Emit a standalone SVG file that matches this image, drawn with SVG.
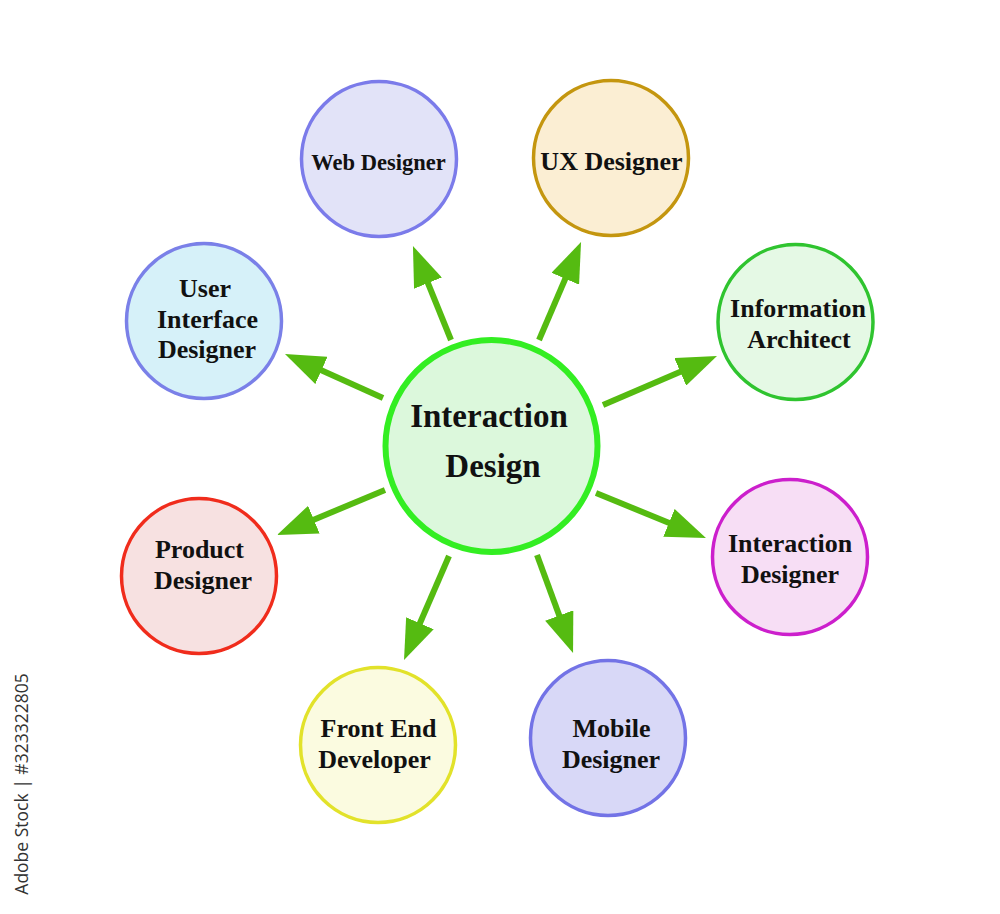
<svg xmlns="http://www.w3.org/2000/svg" width="1000" height="914" viewBox="0 0 1000 914">
<style>
.t{font-family:"Liberation Serif","Times New Roman",serif;font-weight:bold;fill:#111;text-anchor:middle;font-size:26px}
.big{font-size:33px}
.sm{font-size:22.5px}
.c{stroke-width:3.5}
.a{stroke:#55bb11;stroke-width:6;fill:none;marker-end:url(#ah)}
</style>
<defs>
<marker id="ah" markerUnits="userSpaceOnUse" viewBox="0 0 40 30" markerWidth="40" markerHeight="30" refX="30" refY="15" orient="auto">
<path d="M0,0 L40,15 L0,30 z" fill="#55bb11"/>
</marker>
</defs>
<rect width="1000" height="914" fill="#fff"/>
<g id="connectors">
<line class="a" x1="451" y1="340" x2="416.7" y2="255.3"/>
<line class="a" x1="539" y1="340" x2="577.1" y2="251.2"/>
<line class="a" x1="603" y1="405" x2="707.8" y2="360.0"/>
<line class="a" x1="596" y1="493" x2="696.7" y2="534.2"/>
<line class="a" x1="537" y1="555" x2="569.6" y2="643.6"/>
<line class="a" x1="449" y1="556" x2="408.0" y2="650.8"/>
<line class="a" x1="385" y1="490" x2="286.2" y2="531.2"/>
<line class="a" x1="383" y1="398" x2="294.1" y2="358.1"/>
</g>
<g id="center">
<circle cx="491.5" cy="446" r="106" fill="#dcf8dc" stroke="#33ee22" stroke-width="6"/>
<text class="t big" x="489" y="427">Interaction</text>
<text class="t big" x="493" y="477">Design</text>
</g>
<g id="web">
<circle class="c" cx="379" cy="159" r="77.5" fill="#e2e3f8" stroke="#7b7bea"/>
<text class="t sm" x="378.5" y="170">Web Designer</text>
</g>
<g id="ux">
<circle class="c" cx="611" cy="158" r="77.5" fill="#fbeed3" stroke="#c4960f"/>
<text class="t" x="611.5" y="170">UX Designer</text>
</g>
<g id="ui">
<circle class="c" cx="204" cy="321" r="77.5" fill="#d6f1f9" stroke="#7a80e8"/>
<text class="t" x="205" y="297">User</text>
<text class="t" x="207.5" y="328">Interface</text>
<text class="t" x="207" y="358">Designer</text>
</g>
<g id="info">
<circle class="c" cx="795.5" cy="322" r="77.5" fill="#e5f9e5" stroke="#2fc42f"/>
<text class="t" x="798" y="317">Information</text>
<text class="t" x="799" y="348">Architect</text>
</g>
<g id="interaction-designer">
<circle class="c" cx="790" cy="557" r="77.5" fill="#f7def5" stroke="#cc1fcc"/>
<text class="t" x="790" y="552">Interaction</text>
<text class="t" x="790" y="583">Designer</text>
</g>
<g id="mobile">
<circle class="c" cx="608" cy="738" r="77.5" fill="#d8d8f7" stroke="#7373e6"/>
<text class="t" x="611.5" y="737">Mobile</text>
<text class="t" x="611" y="768">Designer</text>
</g>
<g id="frontend">
<circle class="c" cx="378" cy="745" r="77.5" fill="#fbfbe0" stroke="#e2e22a"/>
<text class="t" x="378.5" y="737">Front End</text>
<text class="t" x="374.5" y="768">Developer</text>
</g>
<g id="product">
<circle class="c" cx="199" cy="576" r="77.5" fill="#f7e1e1" stroke="#f02c1c"/>
<text class="t" x="199.5" y="558">Product</text>
<text class="t" x="203" y="589">Designer</text>
</g>
<text x="0" y="0" transform="translate(28,784) rotate(-90)" font-family="'Open Sans','Liberation Sans',sans-serif" font-size="17.5" fill="#333" text-anchor="middle">Adobe Stock | #323322805</text>
</svg>
